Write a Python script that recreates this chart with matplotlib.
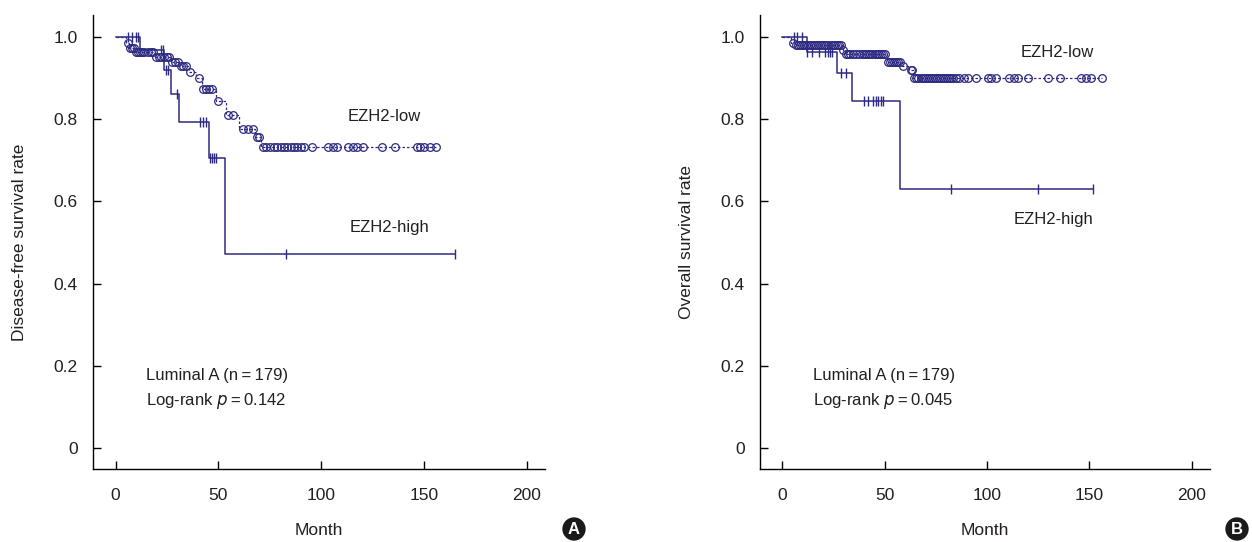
import matplotlib
matplotlib.use('Agg')
import matplotlib.pyplot as plt
import numpy as np

plt.rcParams['font.family'] = ['Liberation Sans', 'DejaVu Sans']

NAVY = '#2d2a82'
TXT = '#231f20'

# ---- Disease-free survival (panel A) ----
dfs_high_t = [12, 23.5, 27, 31, 45.3, 53]
dfs_high_s = [0.968, 0.920, 0.861, 0.794, 0.706, 0.473]
dfs_high_cens = [6, 8, 10, 11, 22, 23, 24.5, 25.5, 30, 41, 42.5, 44, 46, 47, 48, 49, 83, 165]

dfs_low_t = [5, 6.5, 9.5, 19, 27, 31, 35.5, 39, 42, 49, 53.5, 60, 68, 70.8]
dfs_low_s = [0.986, 0.973, 0.964, 0.950, 0.939, 0.928, 0.915, 0.900, 0.874, 0.843,
             0.809, 0.776, 0.757, 0.733]
dfs_low_cens = [5.9, 7, 8, 9, 10, 11, 12, 13, 14, 16, 17, 18, 19.5, 21, 22, 23.5, 25, 26,
                27.5, 29, 30.5, 32, 33, 34.5, 36, 40.5, 42.5, 44, 45.5, 47, 50, 54.5, 57,
                62, 64.5, 67, 69, 70, 71.5, 73.2, 75.1, 77.1, 78.7, 80.3, 82, 83.6, 85.2,
                86.8, 88.4, 90, 91.7, 95.4, 103.6, 105.7, 107.6, 113, 115.4, 117.7, 120.6,
                129.6, 136, 146.7, 148.3, 150.2, 152.8, 156]

# ---- Overall survival (panel B) ----
os_high_t = [11.8, 26.5, 33.8, 57.7]
os_high_s = [0.964, 0.913, 0.843, 0.630]
os_high_cens = [5.4, 7.2, 9.6, 12.1, 14.5, 17.8, 21, 22.2, 23.2, 24.4, 28.4, 30.9, 39.9,
                42, 44.3, 45.7, 46.9, 48, 49.2, 82.4, 125, 152]

os_low_t = [4, 6, 29.5, 30.5, 51, 58.5, 62, 64]
os_low_s = [0.986, 0.979, 0.968, 0.958, 0.938, 0.928, 0.920, 0.900]
os_low_cens = [5.2, 6.5, 7.5, 8.5, 9.5, 10.5, 11.5, 12.5, 13.5, 14.5, 15.5, 16.5, 17.5,
               18.5, 19.5, 20.5, 21.5, 22.5, 23.5, 24.5, 25.5, 26.5, 27.5, 28.5, 29.8, 31,
               32, 33, 34.5, 36, 37.5, 39, 40, 41, 42, 43, 44, 45, 46, 47, 48, 49, 50,
               51.5, 52.5, 53.5, 54.5, 55.5, 56.5, 57.5, 58.7, 62.7, 63.5, 64.5, 65.5,
               66.5, 67.5, 68.5, 69.5, 70.5, 71.5, 72.5, 73.5, 74.5, 75.5, 76.5, 77.5,
               78.5, 79.5, 80.5, 81.5, 82.5, 83.5, 85, 86.4, 88.6, 90.5, 94.6, 100.3,
               101.9, 104.4, 110.9, 113.1, 115, 120, 129.8, 135.5, 146, 148.5, 151, 156]

x_ticks = [0, 50, 100, 150, 200]
y_ticks = [0, 0.2, 0.4, 0.6, 0.8, 1.0]
y_ticklabels = ['0', '0.2', '0.4', '0.6', '0.8', '1.0']


def km_curve(ax, t, s, cens, low):
    tt = np.array([0] + list(t) + [max(cens)])
    ss = np.array([1.0] + list(s) + [s[-1]])
    c = np.array(cens)
    idx = np.searchsorted(tt, c, side='right') - 1
    cy = ss[idx]
    if low:
        ax.step(tt, ss, where='post', color=NAVY, lw=0.9, ls=(0, (2, 1.6)))
        ax.plot(c, cy, ls='none', marker='o', ms=5.5, mfc='none', mec=NAVY, mew=0.9)
    else:
        ax.step(tt, ss, where='post', color=NAVY, lw=1.1)
        ax.plot(c, cy, ls='none', marker='|', ms=7, mec=NAVY, mew=1.0)


def style_axes(ax, ylabel):
    ax.set_xlim(-11, 209)
    ax.set_ylim(-0.05, 1.053)
    ax.spines['top'].set_visible(False)
    ax.spines['right'].set_visible(False)
    for sp in ('left', 'bottom'):
        ax.spines[sp].set_linewidth(1.0)
    ax.set_xticks(x_ticks)
    ax.set_yticks(y_ticks)
    ax.set_yticklabels(y_ticklabels)
    ax.tick_params(direction='in', length=6, width=1, labelsize=12.5, pad=11,
                   labelcolor=TXT)
    ax.tick_params(axis='x', pad=14)
    ax.set_xlabel('Month', fontsize=12.5, labelpad=14, color=TXT)
    ax.set_ylabel(ylabel, fontsize=12.5, labelpad=19, color=TXT)


fig = plt.figure(figsize=(12.52, 5.42), dpi=100)
ax1 = fig.add_axes([0.0743, 0.1347, 0.361, 0.8376])
ax2 = fig.add_axes([0.607, 0.1347, 0.3594, 0.8376])

km_curve(ax1, dfs_high_t, dfs_high_s, dfs_high_cens, False)
km_curve(ax1, dfs_low_t, dfs_low_s, dfs_low_cens, True)
style_axes(ax1, 'Disease-free survival rate')
ax1.text(112.7, 0.806, 'EZH2-low', fontsize=12, va='center', color=TXT)
ax1.text(114, 0.536, 'EZH2-high', fontsize=12, va='center', color=TXT)
ax1.text(15, 0.176, 'Luminal A (n\u2009=\u2009179)', fontsize=12, va='center', color=TXT)
ax1.text(15, 0.115, 'Log-rank $\\it{p}$\u2009=\u20090.142', fontsize=12, va='center', color=TXT)

km_curve(ax2, os_high_t, os_high_s, os_high_cens, False)
km_curve(ax2, os_low_t, os_low_s, os_low_cens, True)
style_axes(ax2, 'Overall survival rate')
ax2.text(116.5, 0.963, 'EZH2-low', fontsize=12, va='center', color=TXT)
ax2.text(113, 0.555, 'EZH2-high', fontsize=12, va='center', color=TXT)
ax2.text(14.7, 0.176, 'Luminal A (n\u2009=\u2009179)', fontsize=12, va='center', color=TXT)
ax2.text(14.7, 0.115, 'Log-rank $\\it{p}$\u2009=\u20090.045', fontsize=12, va='center', color=TXT)

# panel letters
for xp, lab in ((574, 'A'), (1237, 'B')):
    fig.text(xp / 1252, 1 - 529 / 542, lab, color='white', fontsize=12, fontweight='bold',
             ha='center', va='center',
             bbox=dict(boxstyle='circle,pad=0.25', fc='#1a1a1a', ec='none'))

fig.savefig('out.png', dpi=100)
